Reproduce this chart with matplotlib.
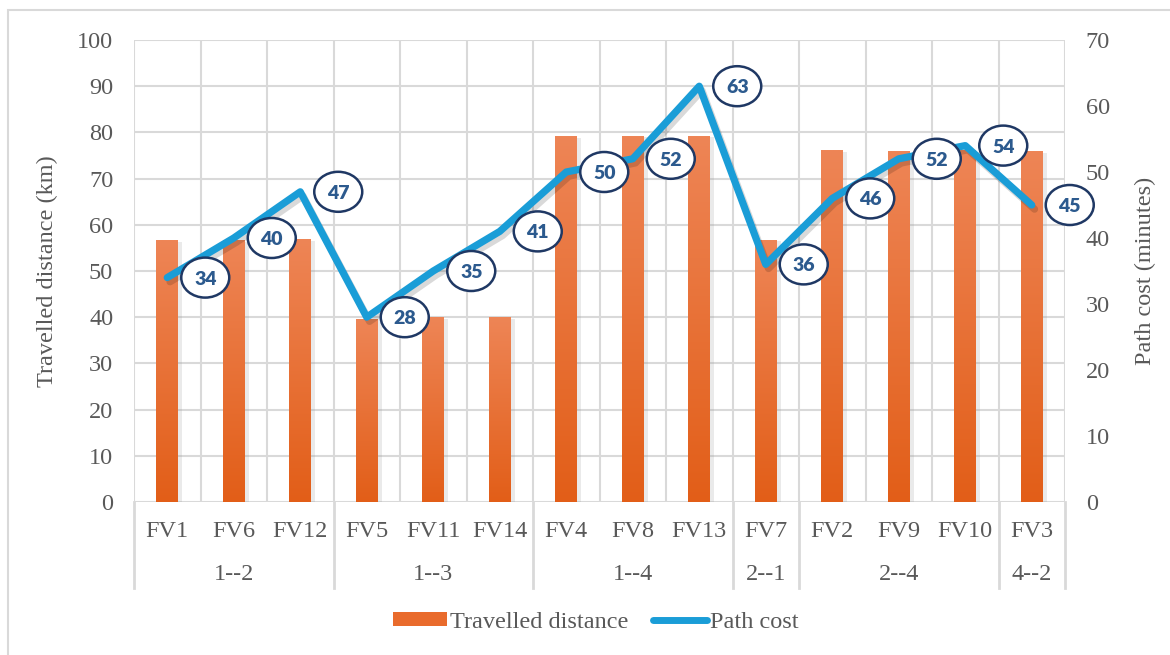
import matplotlib
matplotlib.use("Agg")
import matplotlib.pyplot as plt
import matplotlib.patheffects as pe
from matplotlib.patches import Rectangle, Ellipse
from matplotlib.lines import Line2D
from matplotlib.colors import LinearSegmentedColormap
from matplotlib.transforms import Affine2D, ScaledTranslation
import numpy as np

# vehicle labels, grouped by origin--destination pair
vehicles = ["FV1", "FV6", "FV12", "FV5", "FV11", "FV14", "FV4", "FV8", "FV13",
            "FV7", "FV2", "FV9", "FV10", "FV3"]
groups = ["1--2", "1--3", "1--4", "2--1", "2--4", "4--2"]
group_sizes = [3, 3, 3, 1, 3, 1]

distance_km = [56.5, 56.5, 56.9, 39.6, 40.0, 40.0, 79.1, 79.2, 79.2,
               56.7, 76.1, 75.8, 76.0, 75.8]
path_cost = [34, 40, 47, 28, 35, 41, 50, 52, 63, 36, 46, 52, 54, 45]

GRID = "#D9D9D9"
TXT = "#595959"
BLUE = "#1A9DD7"
FS = 17.5

plt.rcParams["font.family"] = ["Liberation Serif", "DejaVu Serif"]

fig = plt.figure(figsize=(11.7, 6.55), dpi=100)
ax = fig.add_axes([134 / 1170, 1 - 502 / 655, (1065 - 134) / 1170, 462 / 655])
ax2 = ax.twinx()

n = len(vehicles)
x = np.arange(n)

# bars with a light-to-dark orange gradient
cmap = LinearSegmentedColormap.from_list("org", ["#E25E18", "#EE8556"])
grad = np.linspace(0, 1, 256).reshape(-1, 1)
bw = 0.325
bars = ax.bar(x, distance_km, width=bw, color="#E86C2E", zorder=2,
              path_effects=[pe.SimplePatchShadow(offset=(3, -1), shadow_rgbFace="#999999", alpha=0.2),
                            pe.Normal()])
for xi, h in zip(x, distance_km):
    ax.imshow(grad, extent=[xi - bw / 2, xi + bw / 2, 0, h], origin="lower",
              aspect="auto", cmap=cmap, zorder=3)

ax.set_xlim(-0.5, n - 0.5)
ax.set_ylim(0, 100)
ax.set_yticks(np.arange(0, 101, 10))
for yv in np.arange(0, 101, 10):
    ax.axhline(yv, color=GRID, lw=1.5, zorder=1)
for b in np.arange(-0.5, n, 1):
    ax.axvline(b, color=GRID, lw=1.5, zorder=1)

# group separators run down through the category labels
lab_depth = -(588 - 502) / 462
bounds = np.concatenate([[0], np.cumsum(group_sizes)]) - 0.5
trans = ax.get_xaxis_transform()
for b in bounds:
    ax.plot([b, b], [0, lab_depth], color=GRID, lw=2, transform=trans, clip_on=False, zorder=1)
for g, s0, s1 in zip(groups, bounds[:-1], bounds[1:]):
    ax.text((s0 + s1) / 2, -(574 - 502) / 462, g, transform=trans, ha="center", va="center",
            fontsize=FS, color=TXT)

ax.set_xticks(x)
ax.set_xticklabels(vehicles)
ax.tick_params(axis="x", length=0, pad=14, labelsize=FS, labelcolor=TXT)
ax.tick_params(axis="y", length=0, pad=15, labelsize=FS, labelcolor=TXT)
for sp in ax.spines.values():
    sp.set_visible(False)
for sp in ax2.spines.values():
    sp.set_visible(False)
ax.set_ylabel("Travelled distance (km)", fontsize=FS, color=TXT)
ax.yaxis.set_label_coords((58 - 134) / 931, 0.5)

# path cost line on the secondary axis
ax2.plot(x, path_cost, color=BLUE, lw=5.2, solid_joinstyle="round", solid_capstyle="round", zorder=4,
         path_effects=[pe.SimpleLineShadow(offset=(2, -3), shadow_color="k", alpha=0.15), pe.Normal()])
ax2.set_ylim(0, 70)
ax2.set_yticks(np.arange(0, 71, 10))
ax2.tick_params(axis="y", length=0, pad=15, labelsize=FS, labelcolor=TXT)
ax2.set_ylabel("Path cost (minutes)", fontsize=FS, color=TXT)
ax2.yaxis.set_label_coords((1135 - 134) / 931, 0.5)

# value callouts: ellipses sized in pixels, placed to the right of each point
for xi, v in zip(x, path_cost):
    tr = Affine2D().translate(38, 0) + ScaledTranslation(xi, v, ax2.transData)
    ax2.add_patch(Ellipse((0, 0), 48, 40, transform=tr, fc="white", ec="#1F3864",
                          lw=1.8, zorder=5, clip_on=False))
    ax2.annotate(str(v), (xi, v), xytext=(38, 0), textcoords="offset pixels",
                 ha="center", va="center_baseline", fontsize=14, fontweight="heavy",
                 family="Lato", color="#2C5A8E", zorder=6, annotation_clip=False)

handles = [Rectangle((0, 0), 1, 1, fc="#E96B2C", ec="none"),
           Line2D([0], [0], color=BLUE, lw=5, solid_capstyle="round")]
fig.legend(handles, ["Travelled distance", "Path cost"], loc="center",
           bbox_to_anchor=(596 / 1170, 1 - 622 / 655), ncol=2, frameon=False,
           fontsize=FS, labelcolor=TXT, handlelength=2.2, handleheight=0.5,
           handletextpad=0.15, columnspacing=1.0)

# outer frame
fig.patches.append(Rectangle((8 / 1170, -0.02), 1.1, 1 - 10 / 655 + 0.02, transform=fig.transFigure,
                             fill=False, ec=GRID, lw=1.5))

fig.savefig("out.png", dpi=100, facecolor="white")
